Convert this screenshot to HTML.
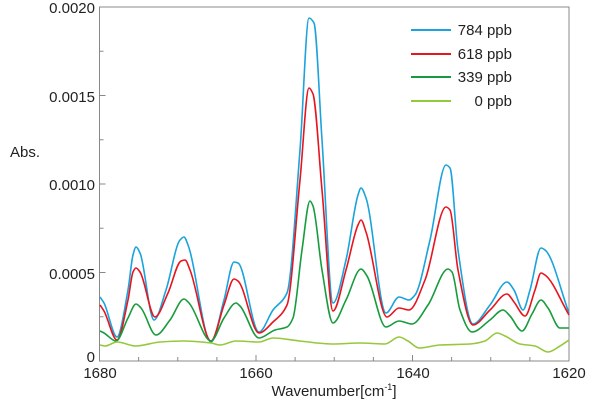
<!DOCTYPE html>
<html><head><style>
html,body{margin:0;padding:0;background:#fff;}
svg text{font-family:"Liberation Sans","DejaVu Sans",sans-serif;fill:#222;}
</style></head><body>
<svg id="s" width="600" height="400" xmlns="http://www.w3.org/2000/svg">
<rect x="99.5" y="7" width="469.5" height="354" fill="none" stroke="#888" stroke-width="1"/>
<g font-size="15" text-anchor="end">
<text x="95" y="13">0.0020</text>
<text x="95" y="102">0.0015</text>
<text x="95" y="190">0.0010</text>
<text x="95" y="279">0.0005</text>
<text x="95" y="362">0</text>
</g>
<text x="10" y="157" font-size="15">Abs.</text>
<g font-size="15" text-anchor="middle">
<text x="100" y="378">1680</text>
<text x="256" y="378">1660</text>
<text x="413" y="378">1640</text>
<text x="569" y="378">1620</text>
</g>
<text x="334" y="396" font-size="15" text-anchor="middle">Wavenumber[cm<tspan font-size="9" dy="-6">-1</tspan><tspan dy="6">]</tspan></text>
<g id="ticks" stroke="#888" stroke-width="1"></g>
<g id="curves" fill="none" stroke-width="1.6" stroke-linejoin="round"></g>
<g stroke-width="2">
<line x1="411" y1="30" x2="451" y2="30" stroke="#1aa3dc"/>
<line x1="411" y1="54" x2="451" y2="54" stroke="#e8141e"/>
<line x1="411" y1="77" x2="451" y2="77" stroke="#169c3c"/>
<line x1="411" y1="101" x2="451" y2="101" stroke="#96c83c"/>
</g>
<g font-size="15" text-anchor="end">
<text x="512" y="35">784 ppb</text>
<text x="512" y="59">618 ppb</text>
<text x="512" y="82">339 ppb</text>
<text x="512" y="106">0 ppb</text>
</g>
</svg>
<script>
var ns="http://www.w3.org/2000/svg";
var tg=document.getElementById("ticks");
function ln(x1,y1,x2,y2){var l=document.createElementNS(ns,"line");l.setAttribute("x1",x1);l.setAttribute("y1",y1);l.setAttribute("x2",x2);l.setAttribute("y2",y2);tg.appendChild(l);}
for(var i=0;i<=12;i++){var x=99.5+i*469.5/12;var h=(i%4==0)?6:4;ln(x,361,x,361-h);}
for(var j=0;j<=8;j++){var y=361-j*354/8;var h=(j%2==0)?6:4;ln(99.5,y,99.5+h,y);}
var data={
"#1aa3dc":[[100,297],[104,303],[117,337],[128,290],[133,255],[136,247],[140,253],[154,320],[166,290],[180,240],[184,237],[188,245],[211,342],[224,300],[234,262],[238,263],[259,332],[273,310],[287,293],[300,150],[309,18],[314,23],[322,140],[333,303],[346,260],[358,195],[361,188],[366,198],[386,313],[399,297],[409,300],[415,295],[430,240],[446,165],[450,168],[458,250],[473,324],[490,305],[507,282],[514,290],[523,310],[530,290],[541,248],[545,250],[569,313]],
"#e8141e":[[100,305],[104,311],[117,340],[128,300],[133,272],[136,268],[140,272],[155,317],[168,293],[181,261],[185,260],[190,270],[211,341],[224,305],[234,279],[238,281],[259,333],[273,322],[287,305],[300,180],[309,88],[313,94],[322,190],[333,311],[346,270],[358,225],[361,220],[366,232],[387,317],[399,308],[409,310],[425,280],[446,207],[450,210],[458,270],[473,325],[490,310],[507,294],[514,302],[525,316],[535,290],[541,273],[545,275],[569,315]],
"#169c3c":[[100,331],[104,333],[116,341],[128,318],[136,304],[141,308],[156,335],[170,320],[184,299],[189,303],[211,341],[224,318],[236,303],[240,306],[259,338],[275,330],[287,327],[293,318],[302,250],[310,201],[313,206],[322,270],[333,323],[346,300],[361,269],[367,276],[386,327],[399,321],[412,324],[428,305],[448,269],[452,272],[460,310],[472,332],[490,320],[503,310],[510,316],[522,331],[532,314],[541,300],[548,308],[560,328],[569,328]],
"#96c83c":[[100,345],[105,346],[117,342],[136,346],[160,342],[183,341],[211,343],[220,345],[236,341],[259,342],[273,338],[300,341],[333,344],[360,343],[385,344],[399,337],[408,341],[419,348],[440,345],[470,344],[485,341],[497,333],[505,336],[520,344],[535,346],[548,352],[560,346],[569,340]]
};
function mono(p){var n=p.length,dx=[],s=[],m=[];
for(var i=0;i<n-1;i++){dx[i]=p[i+1][0]-p[i][0];s[i]=(p[i+1][1]-p[i][1])/dx[i];}
m[0]=s[0];m[n-1]=s[n-2];
for(var i=1;i<n-1;i++){if(s[i-1]*s[i]<=0)m[i]=0;else{var w1=2*dx[i]+dx[i-1],w2=dx[i]+2*dx[i-1];m[i]=(w1+w2)/(w1/s[i-1]+w2/s[i]);}}
var d="M"+p[0][0]+","+p[0][1];
for(var i=0;i<n-1;i++){var h=dx[i]/3;d+=" C"+(p[i][0]+h)+","+(p[i][1]+m[i]*h)+" "+(p[i+1][0]-h)+","+(p[i+1][1]-m[i+1]*h)+" "+p[i+1][0]+","+p[i+1][1];}
return d;}
var cg=document.getElementById("curves");
for(var c in data){var pa=document.createElementNS(ns,"path");pa.setAttribute("d",mono(data[c]));pa.setAttribute("stroke",c);cg.appendChild(pa);}
</script>
</body></html>
